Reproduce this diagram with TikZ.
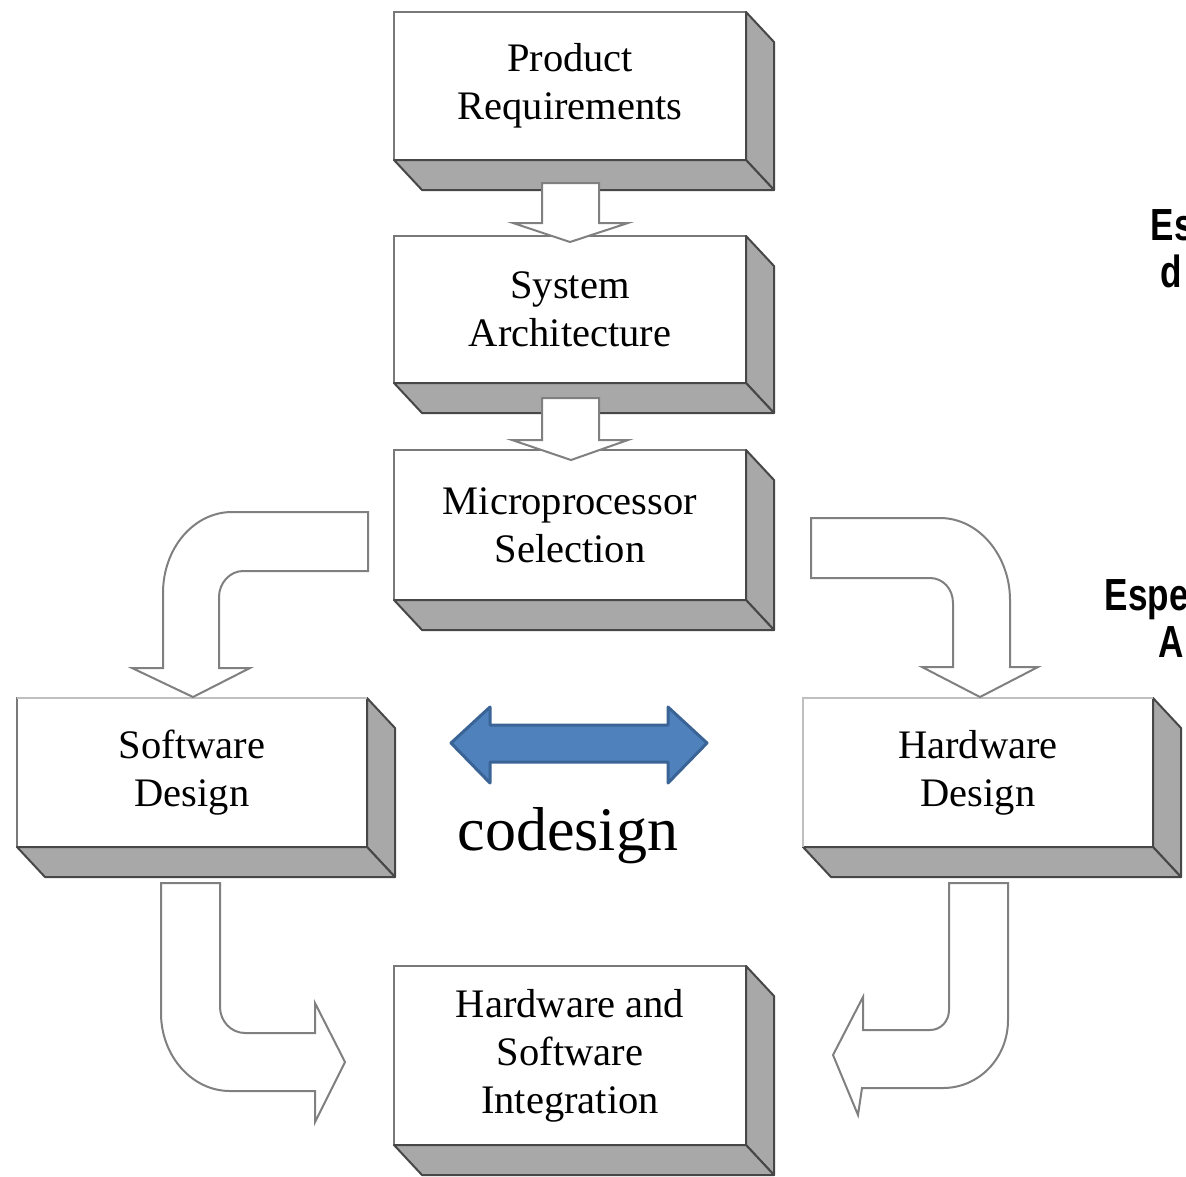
\documentclass[tikz,border=0pt]{standalone}
\usepackage{fontspec}
\setmainfont{Liberation Serif}
\newfontfamily\sansbold[FakeStretch=0.78]{Liberation Sans}
\begin{document}
\begin{tikzpicture}[x=1pt,y=-1pt,
  box3d/.style={draw=gray!95!black, line width=2.4pt, fill=white, inner sep=0pt, outer sep=0pt,
    align=center, font=\fontsize{40.5}{48}\selectfont},
  face/.style={fill=black!34, draw=black!72, line width=2pt, line join=round},
  blockarrow/.style={draw=black!50, line width=2pt, fill=white, line join=miter},
  codearrow/.style={fill=blueA, draw=blueB, line width=3pt, line join=round},
  sidetext/.style={font=\sansbold\bfseries\fontsize{45}{54}\selectfont, anchor=base west, inner sep=0pt}
]
\definecolor{blueA}{HTML}{4F81BD}
\definecolor{blueB}{HTML}{3A6396}
\useasboundingbox (0,0) rectangle (1186,1176);
\fill[white] (0,0) rectangle (1186,1176);

% boxes
\node[box3d, minimum width=352pt, minimum height=148pt] (pr) at (570,86) {Product\\Requirements};
\node[box3d, minimum width=352pt, minimum height=147pt] (sa) at (570,309.5) {System\\Architecture};
\node[box3d, minimum width=352pt, minimum height=150pt] (ms) at (570,525) {Microprocessor\\Selection};
\node[box3d, minimum width=350pt, minimum height=149pt] (sw) at (192,772.5) {Software\\Design};
\node[box3d, minimum width=350pt, minimum height=149pt] (hw) at (978,772.5) {Hardware\\Design};
\node[box3d, minimum width=352pt, minimum height=179pt] (int) at (570,1055.5) {Hardware and\\Software\\Integration};

\foreach \n in {pr,sa,ms,sw,hw,int}{
  \path[face] (\n.north east) -- ++(28,30) -- ([shift={(28,30)}]\n.south east) -- (\n.south east) -- cycle;
  \path[face] (\n.south west) -- (\n.south east) -- ([shift={(28,30)}]\n.south east) -- ([shift={(28,30)}]\n.south west) -- cycle;
}
% lighter top edges
\draw[black!25, line width=2.4pt] (sw.north west) -- (sw.north east);
\draw[black!25, line width=2.4pt] (hw.south west) -- (hw.north west) -- (hw.north east);

% straight block arrows
\path[blockarrow] (542,183) -- (599,183) -- (599,223) -- (628,223) -- (570,242) -- (513,223) -- (542,223) -- cycle;
\path[blockarrow] (542,398) -- (599,398) -- (599,440) -- (628,440) -- (571,460) -- (512,440) -- (542,440) -- cycle;

% curved block arrows
\path[blockarrow] (368,512) -- (232,512) .. controls (194,512) and (163,548) .. (163,593) -- (163,668) -- (132,668) -- (193,697) -- (250,668) -- (219,668) -- (219,597) .. controls (219,583) and (230,571) .. (243,571) -- (368,571) -- cycle;
\path[blockarrow] (811,518) -- (940,518) .. controls (979,518) and (1010,556) .. (1010,600) -- (1010,667) -- (1038,667) -- (980,697) -- (922,667) -- (953,667) -- (953,603) .. controls (953,589) and (943,578) .. (930,578) -- (811,578) -- cycle;
\path[blockarrow] (161,883) -- (220,883) -- (220,1007) .. controls (220,1021) and (231,1033) .. (245,1033) -- (315,1033) -- (315,1003) -- (345,1062) -- (315,1122) -- (315,1091) -- (230,1091) .. controls (192,1091) and (161,1056) .. (161,1013) -- cycle;
\path[blockarrow] (949,883) -- (1008,883) -- (1008,1020) .. controls (1008,1058) and (979,1088) .. (943,1088) -- (862,1088) -- (858,1115) -- (833,1055) -- (863,997) -- (863,1030) -- (930,1030) .. controls (941,1030) and (949,1021) .. (949,1010) -- cycle;

% codesign arrow
\path[codearrow] (451,743) -- (490,707) -- (490,725) -- (668,725) -- (668,707) -- (707,743) -- (668,783) -- (668,762) -- (490,762) -- (490,783) -- cycle;
\node[anchor=base, inner sep=0pt, font=\fontsize{62}{70}\selectfont] (cd) at (568,850) {codesign};

% cropped side texts (cut off at the right edge, as in the reference)
\node[sidetext] (t1) at (1150.5,240) {Es};
\node[sidetext] (t2) at (1160.5,287) {d};
\node[sidetext] (t3) at (1104.5,610) {Espe};
\node[sidetext] (t4) at (1158,657) {A};
\end{tikzpicture}
\end{document}
